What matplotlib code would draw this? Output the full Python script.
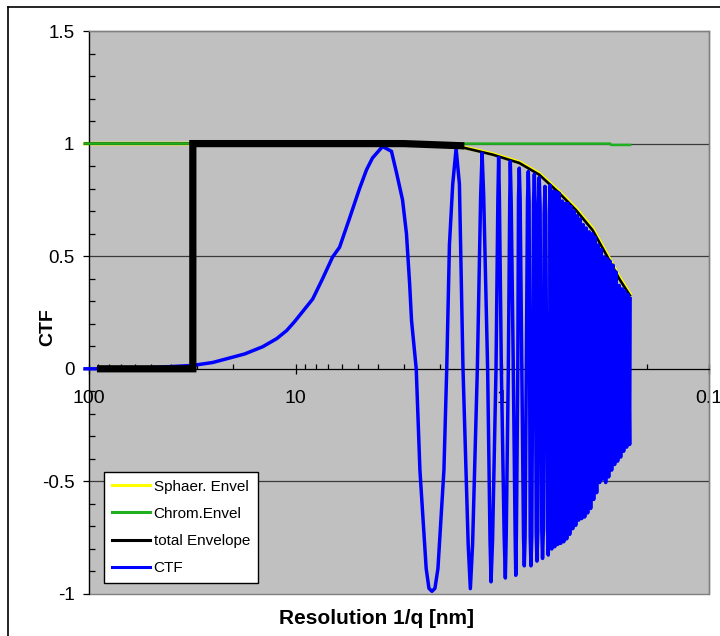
import matplotlib
matplotlib.use('Agg')
import matplotlib.pyplot as plt
from matplotlib.ticker import FixedLocator, FixedFormatter, MultipleLocator, NullFormatter, LogLocator
from matplotlib.lines import Line2D
from matplotlib.patches import Rectangle

plt.rcParams['font.family'] = ['Liberation Sans', 'DejaVu Sans']
plt.rcParams['path.simplify'] = False

# ---------------- data (resolution in nm) ----------------
# CTF: slowly rising part, first hump and the resolved oscillations
ctf_res = [104.5, 91.5, 50.7, 31.45, 25.2, 17.64, 14.44, 12.35, 11.05, 10.11,
           8.27, 7.41, 6.63, 6.13, 5.48, 4.91, 4.54, 4.25, 3.80, 3.44,
           3.25, 3.04, 2.91, 2.81, 2.75, 2.61, 2.505, 2.336, 2.265, 2.191,
           2.119, 2.049, 1.917, 1.858, 1.803, 1.738, 1.674, 1.613, 1.550, 1.463,
           1.428, 1.393, 1.321, 1.273, 1.253, 1.231, 1.178, 1.147, 1.134, 1.115,
           1.073, 1.051, 1.042, 1.033, 1.011, 0.980, 0.967, 0.9575, 0.9355, 0.921,
           0.915, 0.906, 0.885, 0.8673, 0.861, 0.8549, 0.8417,
           0.8352, 0.828, 0.8202, 0.7899, 0.783, 0.7760, 0.7555, 0.749, 0.7421,
           0.7331, 0.727, 0.7202, 0.7067, 0.700, 0.6942, 0.6858, 0.680, 0.6737,
           0.6685, 0.663, 0.6567, 0.6444, 0.639, 0.6330, 0.6274, 0.622, 0.6164,
           0.6048, 0.5995, 0.5942]
ctf_val = [0, 0, 0.005, 0.015, 0.028, 0.066, 0.098, 0.134, 0.17, 0.21,
           0.31, 0.40, 0.496, 0.54, 0.67, 0.80, 0.884, 0.936, 0.987, 0.966,
           0.87, 0.75, 0.60, 0.38, 0.214, 0.0, -0.45, -0.887, -0.975, -0.988,
           -0.975, -0.887, -0.45, 0.0, 0.55, 0.82, 0.978, 0.82, 0.0, -0.78,
           -0.976, -0.78, 0.0, 0.77, 0.958, 0.77, 0.0, -0.76, -0.946, -0.76,
           0.0, 0.75, 0.939, 0.75, 0.0, -0.74, -0.929, -0.74, 0.0, 0.74,
           0.921, 0.74, 0.0, -0.73, -0.917, -0.73, 0.0,
           0.757, 0.891, 0.757, -0.744, -0.875, -0.744, 0.745, 0.876, 0.745,
           -0.744, -0.875, -0.744, 0.734, 0.864, 0.734, -0.726, -0.854, -0.726,
           0.723, 0.85, 0.723, -0.716, -0.842, -0.716, 0.689, 0.81, 0.689,
           -0.703, -0.827, -0.703]
# CTF: dense, unresolved oscillations (alternating maxima / minima)
dense_res = [0.5864, 0.5767, 0.5671, 0.5577, 0.5485, 0.5394, 0.5305, 0.5217, 0.5131, 0.5046,
             0.4962, 0.4880, 0.4800, 0.4720, 0.4642, 0.4565, 0.4490, 0.4415, 0.4342, 0.4270,
             0.4200, 0.4130, 0.4062, 0.3995, 0.3929, 0.3864, 0.3800, 0.3737, 0.3675, 0.3614,
             0.3554, 0.3496, 0.3438, 0.3381, 0.3325, 0.3270, 0.3216, 0.3162, 0.3110, 0.3058,
             0.3008, 0.2958, 0.2909, 0.2861, 0.2813, 0.2767, 0.2721, 0.2676, 0.2632, 0.2588,
             0.2545, 0.2503, 0.2462, 0.2421, 0.2408]
dense_val = [0.815, -0.80, 0.79, -0.79, 0.785, -0.78, 0.78, -0.775, 0.745, -0.768,
             0.735, -0.755, 0.735, -0.735, 0.72, -0.71, 0.70, -0.695, 0.68, -0.672,
             0.665, -0.665, 0.64, -0.658, 0.625, -0.64, 0.608, -0.62, 0.60, -0.58,
             0.585, -0.55, 0.55, -0.505, 0.53, -0.49, 0.497, -0.505, 0.49, -0.48,
             0.478, -0.45, 0.46, -0.425, 0.43, -0.41, 0.37, -0.392, 0.355, -0.366,
             0.345, -0.348, 0.33, -0.336, 0.311]

env_res = [104.5, 9.56, 3.93, 2.518, 2.015, 1.527, 1.291, 1.114, 0.828, 0.663,
           0.530, 0.4406, 0.366, 0.310, 0.272, 0.2416]
env_total = [1.0, 1.0, 0.998, 0.992, 0.988, 0.981, 0.965, 0.951, 0.914, 0.862,
             0.78, 0.705, 0.616, 0.497, 0.40, 0.326]
env_sphaer = [1.0, 1.0, 0.998, 0.993, 0.989, 0.983, 0.968, 0.954, 0.918, 0.867,
              0.786, 0.712, 0.623, 0.505, 0.408, 0.333]

chrom_res = [104.5, 0.3008, 0.298, 0.2408]
chrom_val = [1.0, 1.0, 0.994, 0.994]

aperture_res = [91.5, 31.45, 31.45, 3.0, 1.527]
aperture_val = [0, 0, 1, 1, 0.99]

x_ticks = [100, 10, 1, 0.1]
x_ticklabels = ['100', '10', '1', '0.1']
y_ticks = [-1, -0.5, 0, 0.5, 1, 1.5]
y_ticklabels = ['-1', '-0.5', '0', '0.5', '1', '1.5']
legend_labels = ['Sphaer. Envel', 'Chrom.Envel', 'total Envelope', 'CTF']

# ---------------- figure ----------------
fig = plt.figure(figsize=(7.2, 6.36), dpi=100)
W, H = 720, 636
L, R, T, B = 89, 709, 31, 594
ax = fig.add_axes([L / W, 1 - B / H, (R - L) / W, (B - T) / H])
ax.set_facecolor('#C0C0C0')

ax.set_xscale('log')
ax.set_xlim(100, 0.1)
ax.set_ylim(-1, 1.5)

# grid lines
for yv in [-0.5, 0.5, 1.0]:
    ax.axhline(yv, color='#3a3a3a', lw=0.9, zorder=1)

ax.plot(env_res, env_sphaer, color='#FFFF00', lw=2.6, zorder=2, clip_on=False)
ax.plot(env_res, env_total, color='black', lw=1.9, zorder=3, clip_on=False)
ax.plot(chrom_res, chrom_val, color='#1FB01F', lw=1.8, zorder=3.5, clip_on=False)
ax.plot(ctf_res + dense_res, ctf_val + dense_val, color='#0000FF', lw=2.5, zorder=4,
        clip_on=False, solid_joinstyle='round')
ax.plot(aperture_res, aperture_val, color='black', lw=5.2, zorder=5,
        solid_joinstyle='miter', solid_capstyle='butt')

# spines
ax.spines['bottom'].set_position(('data', 0))
ax.spines['bottom'].set_color('black')
ax.spines['bottom'].set_linewidth(0.9)
ax.spines['left'].set_color('black')
ax.spines['left'].set_linewidth(0.9)
for s in ['top', 'right']:
    ax.spines[s].set_color('#808080')
    ax.spines[s].set_linewidth(1.0)
ax.add_patch(Rectangle((0, 0), 1, 1, transform=ax.transAxes, fill=False,
                       edgecolor='#808080', lw=1.0, zorder=0.5, clip_on=False))

# ticks
ax.xaxis.set_major_locator(FixedLocator(x_ticks))
ax.xaxis.set_major_formatter(FixedFormatter(x_ticklabels))
ax.xaxis.set_minor_locator(LogLocator(base=10, subs=[2, 3, 4, 5, 6, 7, 8, 9]))
ax.xaxis.set_minor_formatter(NullFormatter())
ax.tick_params(axis='x', which='major', direction='inout', length=7.5, width=0.9,
               pad=11.5, labelsize=14)
ax.tick_params(axis='x', which='minor', direction='in', length=3.5, width=0.9)

ax.yaxis.set_major_locator(FixedLocator(y_ticks))
ax.yaxis.set_major_formatter(FixedFormatter(y_ticklabels))
ax.yaxis.set_minor_locator(MultipleLocator(0.1))
ax.tick_params(axis='y', which='major', direction='out', length=4, width=0.9,
               pad=6.5, labelsize=13.5)
ax.tick_params(axis='y', which='minor', direction='in', length=4, width=0.9)

ax.set_xlabel('Resolution 1/q [nm]', fontsize=15, fontweight='bold')
ax.xaxis.set_label_coords((376.5 - L) / (R - L), -0.027)
ax.set_ylabel('CTF', fontsize=14, fontweight='bold')
ax.yaxis.set_label_coords(-0.053, 0.474)

# legend
handles = [Line2D([], [], color='#FFFF00', lw=2.2),
           Line2D([], [], color='#1FB01F', lw=2.2),
           Line2D([], [], color='black', lw=2.2),
           Line2D([], [], color='#0000FF', lw=2.2)]
leg = ax.legend(handles, legend_labels, loc='upper left',
                bbox_to_anchor=((104 - L) / (R - L), (B - 472) / (B - T)),
                borderaxespad=0, fontsize=11, frameon=True, fancybox=False,
                edgecolor='black', facecolor='white', framealpha=1,
                handlelength=2.5, handletextpad=0.25, labelspacing=0.86,
                borderpad=0.5)
leg.get_frame().set_linewidth(1.0)
leg.set_zorder(10)

# outer chart border (Excel chart area)
fig.add_artist(Line2D([8 / W, 8 / W], [0, 1 - 6.5 / H], color='black', lw=1.2))
fig.add_artist(Line2D([8 / W, 1], [1 - 6.5 / H, 1 - 6.5 / H], color='black', lw=1.2))

fig.savefig('out.png', dpi=100)
